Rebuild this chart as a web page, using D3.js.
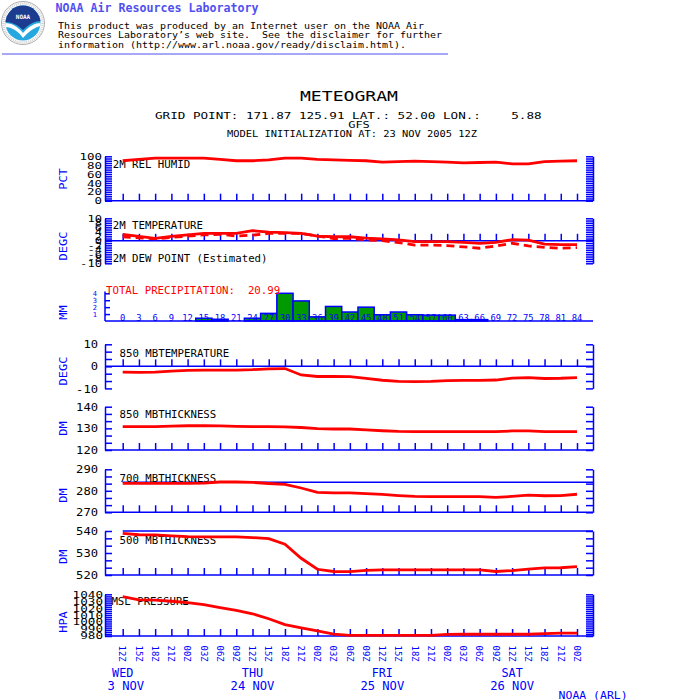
<!DOCTYPE html>
<html>
<head>
<meta charset="utf-8">
<script src="https://cdn.jsdelivr.net/npm/d3@7"></script>
<style>
  body { margin: 0; background: #fff; }
  svg { display: block; }
  text { font-family: "DejaVu Sans Mono", monospace; white-space: pre; }
</style>
</head>
<body>
<svg id="chart" width="700" height="700"></svg>
<script>
// forecast hours (3-hourly from 12Z 23 NOV 2005)
const hours = [0, 3, 6, 9, 12, 15, 18, 21, 24, 27, 30, 33, 36, 39, 42, 45, 48, 51, 54, 57, 60, 63, 66, 69, 72, 75, 78, 81, 84]
const timeLabels = ["12Z", "15Z", "18Z", "21Z", "00Z", "03Z", "06Z", "09Z", "12Z", "15Z", "18Z", "21Z",
  "00Z", "03Z", "06Z", "09Z", "12Z", "15Z", "18Z", "21Z", "00Z", "03Z", "06Z", "09Z", "12Z", "15Z", "18Z", "21Z", "00Z"]
const dayNames = ["WED", "THU", "FRI", "SAT"]
const dayDates = ["3 NOV", "24 NOV", "25 NOV", "26 NOV"]
const dayHours = [0, 24, 48, 72]

// series values
const rhValues = [90, 93, 96, 96, 96, 96, 93, 90, 90, 92, 96, 96, 93, 92, 91, 90, 87, 88, 89, 88, 87, 85, 86, 87, 83, 83, 88, 89, 90]
const tempValues = [2.9, 2.0, 1.1, 2.0, 2.6, 3.3, 3.3, 3.3, 4.5, 3.9, 3.6, 3.3, 2.1, 1.8, 1.8, 1.2, 0.9, 0.4, -0.4, -0.4, -0.4, -0.7, -1.1, -0.7, 0.5, 0.3, -1.5, -1.7, -1.7]
const dewValues = [1.8, 1.3, 0.9, 1.5, 2.1, 2.6, 2.9, 2.1, 2.5, 3.3, 3.3, 3.3, 2.1, 1.0, 1.1, 0.4, 0.1, -0.8, -1.9, -1.9, -2.1, -2.7, -3.3, -2.3, -1.1, -2.3, -2.9, -3.3, -3.0]
const precipValues = [0, 0, 0, 0, 0, 0.4, 0.25, 0, 0.4, 1.1, 4.0, 2.9, 0.6, 2.1, 1.3, 2.0, 0.9, 1.3, 0.9, 0.85, 0.85, 0.2, 0.2, 0, 0, 0, 0, 0, 0]
const precipTotal = "20.99"
const t850Values = [-2.6, -2.7, -2.6, -2.2, -1.8, -1.7, -1.7, -1.7, -1.5, -1.1, -1.0, -3.9, -4.6, -4.6, -4.7, -5.5, -6.3, -6.8, -6.9, -6.8, -6.5, -6.4, -6.4, -6.2, -5.3, -5.1, -5.5, -5.4, -5.1]
const h850Values = [130.8, 130.8, 130.8, 131.0, 131.2, 131.2, 131.1, 130.9, 130.8, 130.8, 130.7, 130.4, 129.9, 129.7, 129.7, 129.3, 128.9, 128.6, 128.5, 128.5, 128.5, 128.5, 128.5, 128.5, 128.8, 128.8, 128.5, 128.5, 128.5]
const h700Values = [283.5, 283.5, 283.5, 283.5, 283.5, 283.6, 284.1, 284.1, 283.9, 283.4, 283.0, 281.3, 279.3, 279.0, 279.0, 278.7, 278.3, 277.8, 277.4, 277.3, 277.3, 277.3, 277.3, 276.9, 277.4, 278.0, 277.7, 277.8, 278.4]
const h500Values = [538.9, 538.3, 538.2, 537.8, 537.4, 537.3, 537.3, 537.3, 537.0, 536.5, 534.0, 527.6, 522.6, 521.6, 521.5, 522.1, 522.3, 522.3, 522.3, 522.3, 522.3, 522.3, 522.3, 521.6, 522.0, 522.7, 523.2, 523.3, 523.8]
const mslValues = [1036.5, 1032.0, 1031.6, 1030.0, 1028.0, 1025.2, 1021.0, 1017.0, 1012.0, 1004.8, 996.3, 991.8, 987.4, 982.6, 981.0, 981.0, 981.0, 981.0, 981.0, 981.0, 982.3, 982.5, 982.5, 982.5, 982.5, 982.5, 983.5, 984.0, 984.0]
const h700Ref = 284
const h500Ref = 540

// tick labels
const rhTickLabels = [0, 20, 40, 60, 80, 100]
const tempTickLabels = [10, 8, 6, 4, 2, 0, -2, -4, -6, -8, -10]
const precipTickLabels = [1, 2, 3, 4]
const t850TickLabels = [10, 0, -10]
const h850TickLabels = [140, 130, 120]
const h700TickLabels = [290, 280, 270]
const h500TickLabels = [540, 530, 520]
const mslTickLabels = [1040, 1030, 1020, 1010, 1000, 990, 980]

const BLUE = "#0000ff"
const RED = "#ff0000"
const GREEN = "#009900"
const HEAD = "#5050f0"
const AX_L = 105, AX_R = 593

const svg = d3.select("#chart")
const x = d3.scaleLinear().domain([0, 84]).range([122.7, 577])

// squeeze/stretch text to the blocky plotter font widths
function stretch(sel, cw) {
  sel.each(function() {
    const n = this.textContent.length
    d3.select(this).attr("textLength", n * cw).attr("lengthAdjust", "spacingAndGlyphs")
  })
}

function label(str, px, py, size, cw, color, anchor) {
  return svg.append("text")
    .attr("x", px).attr("y", py)
    .attr("font-size", size)
    .attr("fill", color || "#000")
    .attr("text-anchor", anchor || "start")
    .text(str)
    .call(stretch, cw)
}

// ---------- header ----------
const logo = svg.append("g").attr("transform", "translate(23,23)")
logo.append("circle").attr("r", 21.5).attr("fill", "#fff").attr("stroke", "#9a9a9a").attr("stroke-width", 0.8)
logo.append("circle").attr("r", 19.5).attr("fill", "none").attr("stroke", "#d0d0d0").attr("stroke-width", 2.5).attr("stroke-dasharray", "1,1")
svg.append("clipPath").attr("id", "logoclip").append("circle").attr("cx", 23).attr("cy", 23).attr("r", 17.5)
const inner = svg.append("g").attr("clip-path", "url(#logoclip)")
inner.append("rect").attr("x", 5).attr("y", 5).attr("width", 36).attr("height", 36).attr("fill", "#27a7df")
inner.append("path").attr("fill", "#1c3c8f")
  .attr("d", "M5,5 H41 V21 C35,21 29,24 23,30 C18,25 12,22 5,22 Z")
inner.append("path").attr("fill", "#fff")
  .attr("d", "M5,23 C12,23 18,27 23,33 C29,26 35,23 41,23 L41,26 C35,27 29,31 23,38 C18,31 12,27 5,27 Z")
svg.append("text").attr("x", 23).attr("y", 19).attr("text-anchor", "middle")
  .attr("font-size", 6).attr("font-weight", "bold").attr("fill", "#fff").text("NOAA")

label("NOAA Air Resources Laboratory", 55.5, 12, 11.5, 7.0, HEAD).attr("font-weight", "bold")
label("This product was produced by an Internet user on the NOAA Air", 58, 28.5, 9.5, 6.0)
label("Resources Laboratory\u2019s web site.  See the disclaimer for further", 58, 38, 9.5, 6.0)
label("information (http://www.arl.noaa.gov/ready/disclaim.html).", 58, 47.5, 9.5, 6.0)
svg.append("line").attr("x1", 2).attr("x2", 448).attr("y1", 54).attr("y2", 54)
  .attr("stroke", HEAD).attr("stroke-width", 1)

// ---------- titles ----------
label("METEOGRAM", 349, 100.7, 14.5, 10.9, "#000", "middle")
  .attr("font-family", "'DejaVu Sans', sans-serif").attr("font-weight", 200)
label("GRID POINT: 171.87 125.91 LAT.: 52.00 LON.:    5.88", 155, 118.5, 9.5, 7.58)
label("GFS", 359, 127.5, 8.5, 7.2, "#000", "middle")
label("MODEL INITIALIZATION AT: 23 NOV 2005 12Z", 227, 137, 8, 6.25)

// ---------- generic panel ----------
function drawPanel(p) {
  const y = d3.scaleLinear().domain(p.domain).range(p.range)
  const g = svg.append("g").attr("color", BLUE).attr("stroke-width", 1.5)

  g.append("g").attr("transform", `translate(${AX_L},0)`)
    .call(d3.axisLeft(y).tickValues(p.minor).tickSizeInner(-7).tickSizeOuter(0).tickFormat(""))
  g.append("g").attr("transform", `translate(${AX_R},0)`)
    .call(d3.axisRight(y).tickValues(p.minor).tickSizeInner(-7).tickSizeOuter(0).tickFormat(""))

  g.append("line").attr("x1", AX_L).attr("x2", AX_R)
    .attr("y1", y(p.base)).attr("y2", y(p.base)).attr("stroke", BLUE)
  g.append("g").attr("transform", `translate(0,${y(p.base)})`)
    .call(d3.axisTop(x).tickValues(hours).tickSize(7).tickFormat(""))
    .call(s => s.select(".domain").remove())

  if (p.ref !== undefined) {
    g.append("line").attr("x1", x(0)).attr("x2", AX_R)
      .attr("y1", y(p.ref)).attr("y2", y(p.ref)).attr("stroke", BLUE)
  }

  // tick labels
  const lab = svg.append("g").attr("transform", `translate(${p.labelX},0)`)
    .call(d3.axisLeft(y).tickValues(p.labels).tickSize(0).tickPadding(0).tickFormat(d => String(d)))
  lab.select(".domain").remove()
  lab.attr("font-family", null).attr("font-size", null)
  lab.selectAll("text")
    .attr("fill", p.labelColor || "#000")
    .attr("font-size", p.labelSize)
    .attr("dy", null).attr("y", p.labelSize * 0.36)
    .call(stretch, p.labelCw)

  // unit
  svg.append("text")
    .attr("transform", `translate(67,${p.unitY}) rotate(-90)`)
    .attr("text-anchor", "middle").attr("font-size", 11).attr("fill", BLUE)
    .text(p.unit).call(stretch, 7.2)

  // title
  label(p.title, p.titleX, p.titleY, 10, 6.45)

  const line = d3.line().x((d, i) => x(hours[i])).y(d => y(d))
  p.series.forEach(s => {
    svg.append("path").datum(s.values)
      .attr("d", line).attr("fill", "none")
      .attr("stroke", RED).attr("stroke-width", 2.8)
      .attr("stroke-dasharray", s.dash || null)
  })
  if (p.title2) label(p.title2, p.titleX, p.title2Y, 10, 6.45)
}

drawPanel({
  domain: [0, 100], range: [200.7, 156.3], base: 0, minor: d3.range(0, 101, 5),
  labels: rhTickLabels, labelX: 102, labelSize: 8.5, labelCw: 7.5,
  unit: "PCT", unitY: 179, title: "2M REL HUMID", titleX: 112.7, titleY: 168.3,
  series: [{ values: rhValues }]
})
drawPanel({
  domain: [-10, 10], range: [263.3, 218.3], base: 0, minor: d3.range(-10, 11, 1),
  labels: tempTickLabels, labelX: 102, labelSize: 8, labelCw: 7.3,
  unit: "DEGC", unitY: 246, title: "2M TEMPERATURE", titleX: 112.7, titleY: 229,
  title2: "2M DEW POINT (Estimated)", title2Y: 262.3,
  series: [{ values: tempValues }, { values: dewValues, dash: "8,5" }]
})
drawPanel({
  domain: [-10, 10], range: [388.4, 344.3], base: 0, minor: d3.range(-10, 10.01, 20 / 6),
  labels: t850TickLabels, labelX: 98, labelSize: 10, labelCw: 7.3,
  unit: "DEGC", unitY: 371, title: "850 MBTEMPERATURE", titleX: 119.5, titleY: 356.7,
  series: [{ values: t850Values }]
})
drawPanel({
  domain: [120, 140], range: [450, 406.7], base: 120, minor: d3.range(120, 140.01, 20 / 6),
  labels: h850TickLabels, labelX: 98, labelSize: 10, labelCw: 7.3,
  unit: "DM", unitY: 428.5, title: "850 MBTHICKNESS", titleX: 119.5, titleY: 418.3,
  series: [{ values: h850Values }]
})
drawPanel({
  domain: [270, 290], range: [512.3, 469.3], base: 270, minor: d3.range(270, 290.01, 20 / 6), ref: h700Ref,
  labels: h700TickLabels, labelX: 98, labelSize: 10, labelCw: 7.3,
  unit: "DM", unitY: 495.5, title: "700 MBTHICKNESS", titleX: 119.5, titleY: 481.7,
  series: [{ values: h700Values }]
})
drawPanel({
  domain: [520, 540], range: [575, 531], base: 520, minor: d3.range(520, 540.01, 20 / 6), ref: h500Ref,
  labels: h500TickLabels, labelX: 98, labelSize: 10, labelCw: 7.3,
  unit: "DM", unitY: 556.7, title: "500 MBTHICKNESS", titleX: 119.5, titleY: 544,
  series: [{ values: h500Values }]
})
drawPanel({
  domain: [980, 1040], range: [636, 594.3], base: 980, minor: d3.range(980, 1041, 3),
  labels: mslTickLabels, labelX: 103, labelSize: 8, labelCw: 7.6,
  unit: "HPA", unitY: 622, title: "MSL PRESSURE", titleX: 111.4, titleY: 605,
  series: [{ values: mslValues }]
})

// ---------- precipitation panel ----------
const yP = d3.scaleLinear().domain([0, 4]).range([321, 293.3])
const pg = svg.append("g").attr("color", BLUE).attr("stroke-width", 1.5)
pg.append("g").attr("transform", `translate(${AX_L},0)`)
  .call(d3.axisLeft(yP).tickValues(precipTickLabels).tickSizeInner(-5).tickSizeOuter(0).tickFormat(""))
  .select(".domain").attr("d", `M0,${yP(0)}V291.5`)

const bw = x(3) - x(0)
svg.append("g").selectAll("rect")
  .data(precipValues.map((v, i) => ({ h: hours[i], v })).filter(d => d.v > 0))
  .join("rect")
  .attr("x", d => x(d.h) - bw / 2).attr("width", bw)
  .attr("y", d => yP(d.v)).attr("height", d => yP(0) - yP(d.v))
  .attr("fill", GREEN).attr("stroke", BLUE).attr("stroke-width", 1.5)

svg.append("line").attr("x1", AX_L).attr("x2", AX_R).attr("y1", yP(0)).attr("y2", yP(0))
  .attr("stroke", BLUE).attr("stroke-width", 1.5)

svg.append("g").selectAll("text")
  .data(hours).join("text")
  .attr("x", d => x(d)).attr("y", 320.5)
  .attr("text-anchor", "middle").attr("font-size", 8).attr("fill", BLUE)
  .text(d => String(d))
  .call(stretch, 5.3)

const pl = svg.append("g").attr("transform", "translate(97,0)")
  .call(d3.axisLeft(yP).tickValues(precipTickLabels).tickSize(0).tickPadding(0).tickFormat(d => String(d)))
pl.select(".domain").remove()
pl.attr("font-family", null).attr("font-size", null)
pl.selectAll("text").attr("fill", BLUE).attr("font-size", 7).attr("dy", null).attr("y", 2.5)

svg.append("text")
  .attr("transform", "translate(67,312.5) rotate(-90)")
  .attr("text-anchor", "middle").attr("font-size", 11).attr("fill", BLUE)
  .text("MM").call(stretch, 7.2)
label("TOTAL PRECIPITATION:  " + precipTotal, 106, 294, 10, 6.45, RED)

// ---------- time axis labels ----------
svg.append("g").selectAll("text")
  .data(timeLabels).join("text")
  .attr("transform", (d, i) => `translate(${x(hours[i])},645.5) rotate(90)`)
  .attr("dy", "0.36em").attr("font-size", 9).attr("fill", BLUE)
  .text(d => d)
  .call(stretch, 5.4)

dayNames.forEach((d, i) => label(d, x(dayHours[i]), 677, 11.5, 7.1, BLUE, "middle"))
label(dayDates[0], 107.6, 689.5, 11.5, 7.3, BLUE)
dayDates.slice(1).forEach((d, i) => label(d, x(dayHours[i + 1]), 689.5, 11.5, 7.3, BLUE, "middle"))
label("NOAA (ARL)", 558.6, 698.5, 10.5, 6.9, BLUE)
</script>
</body>
</html>
